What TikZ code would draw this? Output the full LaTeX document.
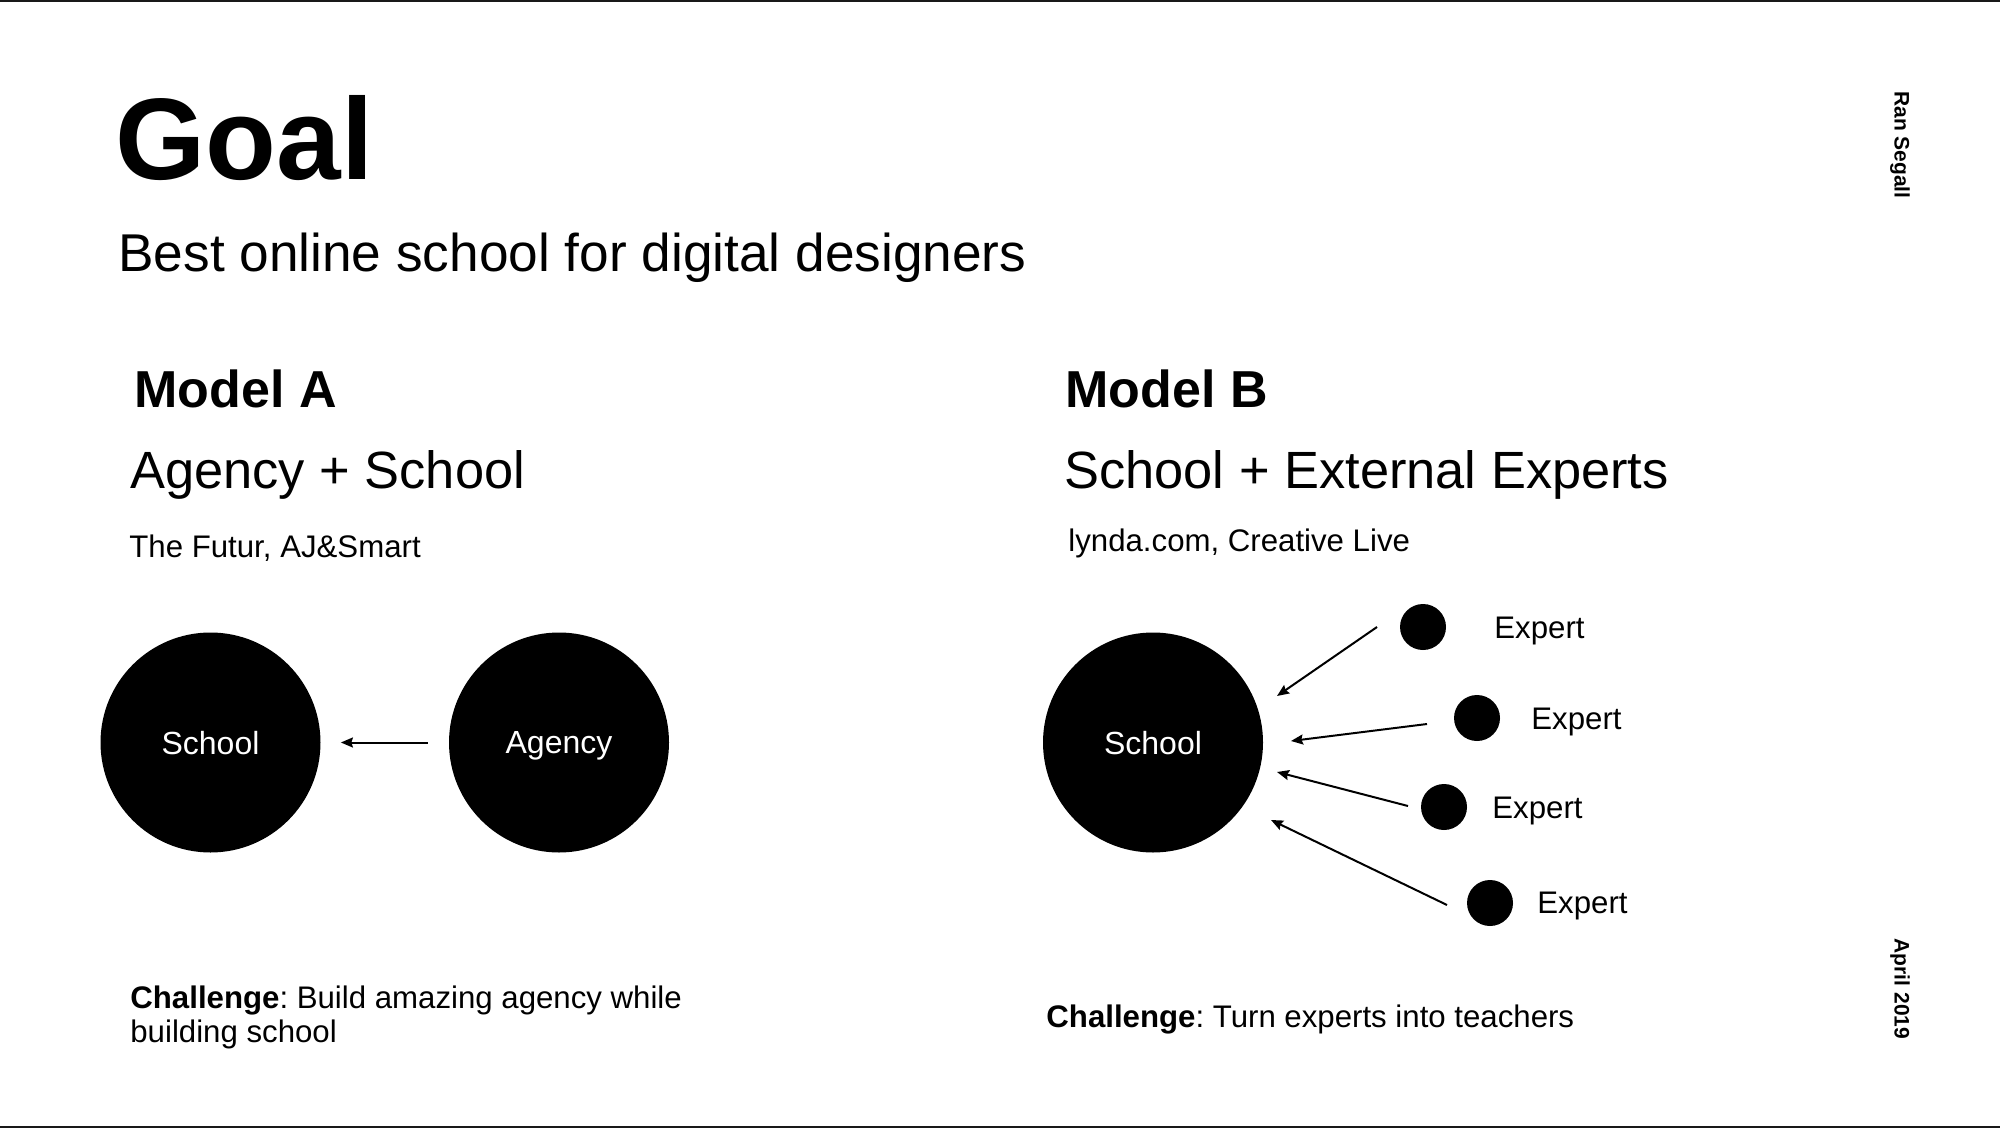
\documentclass[tikz,border=0pt]{standalone}
\usepackage{fontspec}
\setmainfont{Liberation Sans}
\usetikzlibrary{arrows.meta}
\frenchspacing
\begin{document}
\tikzset{
  txt/.style={inner sep=0pt, anchor=base west, text=black},
  titlefont/.style={font=\fontsize{58}{60}\selectfont\bfseries},
  subfont/.style={font=\fontsize{26.6}{30}\selectfont},
  headfont/.style={font=\fontsize{26}{30}\selectfont\bfseries},
  medfont/.style={font=\fontsize{26.2}{30}\selectfont},
  smallfont/.style={font=\fontsize{15.6}{17}\selectfont},
  sidefont/.style={font=\fontsize{10.5}{12}\selectfont\bfseries},
  bigdot/.style={circle, fill=black, minimum size=110pt, inner sep=0pt,
    text=white, font=\fontsize{16}{19}\selectfont, text depth=0pt},
  smalldot/.style={circle, fill=black, minimum size=23pt, inner sep=0pt},
  arr/.style={line width=1pt, draw=black, -{Stealth[length=6pt,width=5pt,inset=0.8pt]}},
  rulestyle/.style={line width=1pt, draw=black!90}
}
\begin{tikzpicture}[x=0.5pt,y=-0.5pt]
\useasboundingbox (0,0) rectangle (2000,1128);
\fill[white] (0,0) rectangle (2000,1128);
\draw[rulestyle] (0,1) -- (2000,1);
\draw[rulestyle] (0,1126.5) -- (2000,1126.5);

% titles
\node[txt, titlefont] (goal) at (115,180) {Goal};
\node[txt, subfont] (sub) at (118,272) {Best online school for digital designers};

% model A
\node[txt, headfont] (modelA) at (134,408) {Model A};
\node[txt, medfont] (agsch) at (130,488) {Agency + School};
\node[txt, smallfont] (exA) at (129,557) {The Futur, AJ\&Smart};

% model B
\node[txt, headfont] (modelB) at (1065,408) {Model B};
\node[txt, medfont] (schext) at (1064,488) {School + External Experts};
\node[txt, smallfont] (exB) at (1068,551) {lynda.com, Creative Live};

% side texts
\node[sidefont, rotate=-90, inner sep=0pt] (author) at (1900,145) {Ran Segall};
\node[sidefont, rotate=-90, inner sep=0pt] (date) at (1900,989) {April 2019};

% diagram A
\node[bigdot] (schoolA) at (210.5,742.5) {School};
\node[bigdot] (agency) at (559,742.5) {Agency};
\draw[arr, shorten <=10.5pt, shorten >=10pt] (agency) -- (schoolA);

% diagram B
\node[bigdot] (schoolB) at (1153,742.5) {School};
\node[smalldot] (d1) at (1423,627) {};
\node[smalldot] (d2) at (1477,718) {};
\node[smalldot] (d3) at (1444,807) {};
\node[smalldot] (d4) at (1490,903) {};
\node[txt, smallfont] (l1) at (1494,638) {Expert};
\node[txt, smallfont] (l2) at (1531,729) {Expert};
\node[txt, smallfont] (l3) at (1492,818) {Expert};
\node[txt, smallfont] (l4) at (1537,913) {Expert};

\coordinate (b1s) at (1377,627);
\coordinate (b1e) at (1277,696);
\coordinate (b2s) at (1427,724);
\coordinate (b2e) at (1291,741);
\coordinate (b3s) at (1408,806);
\coordinate (b3e) at (1277,772);
\coordinate (b4s) at (1447,905);
\coordinate (b4e) at (1271,820);
\draw[arr] (b1s) -- (b1e);
\draw[arr] (b2s) -- (b2e);
\draw[arr] (b3s) -- (b3e);
\draw[arr] (b4s) -- (b4e);

% challenges
\node[txt, smallfont] (chA1) at (130,1008) {\textbf{Challenge}: Build amazing agency while};
\node[txt, smallfont] (chA2) at (130,1042) {building school};
\node[txt, smallfont] (chB) at (1046,1027) {\textbf{Challenge}: Turn experts into teachers};
\end{tikzpicture}
\end{document}
